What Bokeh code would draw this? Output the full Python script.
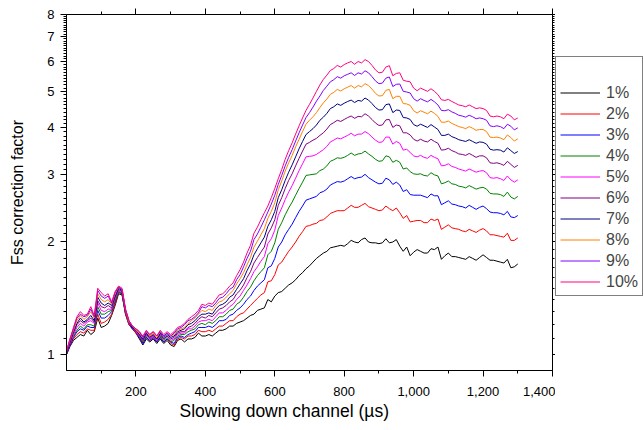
from bokeh.plotting import figure
from bokeh.layouts import row
from bokeh.models import (Range1d, FixedTicker, NumeralTickFormatter, LinearAxis,
                          LogAxis, Legend, LegendItem, Title)
from bokeh.embed import file_html
from bokeh.resources import INLINE

# slowing-down channel (µs), one point every 10 µs
x_us = list(range(0, 1301, 10))

labels = ["1%", "2%", "3%", "4%", "5%", "6%", "7%", "8%", "9%", "10%"]
colors = ["#000000", "#FF0000", "#0000FF", "#008000", "#FF00FF",
          "#800080", "#000080", "#FF8000", "#8000FF", "#FF0080"]

s1 = [1.00,1.05,1.09,1.11,1.13,1.12,1.16,1.13,1.15,1.25,
      1.18,1.19,1.21,1.27,1.35,1.45,1.44,1.28,1.20,1.17,
      1.14,1.10,1.06,1.10,1.08,1.10,1.07,1.10,1.07,1.09,
      1.06,1.05,1.09,1.10,1.08,1.10,1.10,1.11,1.14,1.12,
      1.12,1.13,1.12,1.14,1.16,1.16,1.17,1.19,1.19,1.21,
      1.22,1.23,1.25,1.27,1.28,1.31,1.32,1.33,1.40,1.38,
      1.43,1.46,1.47,1.50,1.53,1.55,1.58,1.62,1.65,1.69,
      1.72,1.76,1.80,1.83,1.86,1.88,1.92,1.93,1.94,1.95,
      1.94,1.97,2.01,1.99,1.98,2.02,2.04,1.99,1.98,1.98,
      1.97,1.98,2.03,1.98,1.99,2.02,1.94,1.88,1.93,1.83,
      1.87,1.90,1.88,1.86,1.86,1.91,1.90,1.93,1.79,1.83,
      1.86,1.82,1.82,1.81,1.80,1.79,1.82,1.80,1.78,1.81,
      1.84,1.81,1.78,1.78,1.77,1.76,1.75,1.79,1.70,1.71,
      1.74]

s2 = [1.00,1.06,1.10,1.13,1.15,1.14,1.17,1.16,1.16,1.28,
      1.21,1.22,1.24,1.28,1.36,1.46,1.45,1.28,1.20,1.17,
      1.14,1.11,1.07,1.11,1.09,1.11,1.08,1.11,1.08,1.10,
      1.07,1.06,1.10,1.11,1.10,1.12,1.12,1.13,1.16,1.15,
      1.15,1.16,1.15,1.17,1.19,1.19,1.21,1.23,1.23,1.26,
      1.28,1.29,1.32,1.35,1.38,1.41,1.44,1.46,1.56,1.57,
      1.63,1.73,1.76,1.82,1.88,1.93,1.99,2.06,2.12,2.19,
      2.20,2.22,2.23,2.27,2.28,2.32,2.37,2.39,2.41,2.41,
      2.41,2.45,2.49,2.46,2.46,2.49,2.52,2.47,2.45,2.43,
      2.41,2.42,2.48,2.44,2.41,2.45,2.38,2.30,2.34,2.25,
      2.26,2.27,2.27,2.24,2.24,2.29,2.27,2.29,2.15,2.18,
      2.21,2.17,2.16,2.15,2.13,2.12,2.15,2.13,2.11,2.14,
      2.16,2.13,2.08,2.08,2.07,2.06,2.05,2.10,2.01,2.01,
      2.04]

s3 = [1.00,1.06,1.11,1.15,1.17,1.16,1.19,1.18,1.18,1.31,
      1.25,1.25,1.27,1.30,1.38,1.47,1.45,1.29,1.21,1.17,
      1.15,1.11,1.07,1.11,1.09,1.11,1.08,1.11,1.08,1.10,
      1.08,1.07,1.11,1.12,1.11,1.13,1.14,1.15,1.18,1.18,
      1.18,1.19,1.18,1.20,1.23,1.23,1.24,1.27,1.28,1.31,
      1.33,1.36,1.40,1.43,1.48,1.52,1.55,1.58,1.70,1.72,
      1.80,1.93,1.99,2.08,2.15,2.22,2.31,2.40,2.48,2.57,
      2.59,2.61,2.63,2.69,2.71,2.75,2.82,2.85,2.88,2.87,
      2.89,2.93,2.97,2.93,2.95,2.96,3.01,2.95,2.91,2.87,
      2.84,2.85,2.94,2.91,2.83,2.87,2.82,2.71,2.74,2.66,
      2.65,2.65,2.65,2.63,2.61,2.67,2.64,2.64,2.50,2.53,
      2.56,2.51,2.50,2.48,2.47,2.45,2.49,2.46,2.43,2.46,
      2.48,2.44,2.39,2.38,2.38,2.37,2.35,2.40,2.32,2.31,
      2.34]

s4 = [1.01,1.07,1.12,1.16,1.19,1.17,1.20,1.20,1.19,1.34,
      1.28,1.28,1.30,1.31,1.39,1.47,1.46,1.29,1.21,1.18,
      1.15,1.12,1.08,1.12,1.10,1.12,1.09,1.12,1.09,1.11,
      1.08,1.09,1.12,1.13,1.13,1.15,1.16,1.17,1.20,1.21,
      1.20,1.22,1.21,1.23,1.26,1.26,1.28,1.31,1.32,1.36,
      1.38,1.42,1.47,1.51,1.57,1.62,1.66,1.70,1.84,1.88,
      1.98,2.15,2.24,2.35,2.45,2.54,2.65,2.76,2.87,2.99,
      3.00,3.01,3.02,3.08,3.11,3.17,3.26,3.29,3.33,3.32,
      3.34,3.38,3.43,3.38,3.41,3.42,3.47,3.41,3.36,3.30,
      3.26,3.27,3.37,3.35,3.24,3.28,3.24,3.11,3.13,3.06,
      3.02,3.01,3.02,2.99,2.98,3.04,3.00,2.98,2.84,2.86,
      2.89,2.84,2.83,2.80,2.79,2.77,2.81,2.78,2.75,2.77,
      2.78,2.75,2.68,2.67,2.67,2.66,2.63,2.70,2.62,2.59,
      2.63]

s5 = [1.01,1.07,1.13,1.18,1.21,1.19,1.22,1.23,1.21,1.37,
      1.31,1.30,1.32,1.32,1.41,1.48,1.47,1.30,1.21,1.18,
      1.15,1.12,1.09,1.13,1.10,1.12,1.09,1.13,1.10,1.12,
      1.09,1.10,1.13,1.14,1.14,1.17,1.17,1.19,1.22,1.23,
      1.23,1.24,1.23,1.26,1.29,1.29,1.31,1.34,1.36,1.40,
      1.43,1.48,1.53,1.59,1.66,1.71,1.77,1.82,1.97,2.03,
      2.14,2.34,2.45,2.58,2.70,2.81,2.94,3.08,3.21,3.35,
      3.36,3.37,3.40,3.45,3.50,3.57,3.67,3.71,3.76,3.74,
      3.78,3.82,3.87,3.81,3.85,3.85,3.91,3.86,3.78,3.71,
      3.66,3.67,3.78,3.78,3.62,3.68,3.64,3.49,3.51,3.44,
      3.37,3.35,3.38,3.34,3.32,3.38,3.34,3.31,3.17,3.18,
      3.21,3.16,3.14,3.11,3.09,3.07,3.11,3.08,3.05,3.07,
      3.08,3.04,2.95,2.94,2.95,2.93,2.90,2.98,2.91,2.87,
      2.91]

s6 = [1.01,1.08,1.14,1.20,1.23,1.21,1.23,1.25,1.22,1.39,
      1.34,1.33,1.35,1.33,1.42,1.49,1.47,1.30,1.22,1.18,
      1.16,1.13,1.09,1.13,1.11,1.13,1.10,1.13,1.10,1.12,
      1.10,1.11,1.14,1.15,1.15,1.18,1.19,1.21,1.24,1.26,
      1.25,1.27,1.26,1.29,1.32,1.33,1.35,1.38,1.40,1.45,
      1.48,1.53,1.60,1.66,1.75,1.81,1.87,1.93,2.09,2.17,
      2.28,2.49,2.61,2.76,2.90,3.02,3.17,3.32,3.47,3.62,
      3.66,3.71,3.75,3.82,3.88,3.97,4.08,4.13,4.19,4.16,
      4.21,4.26,4.30,4.24,4.29,4.28,4.36,4.30,4.21,4.12,
      4.06,4.07,4.20,4.21,4.01,4.07,4.05,3.88,3.88,3.83,
      3.73,3.69,3.73,3.69,3.67,3.73,3.68,3.64,3.49,3.50,
      3.53,3.48,3.45,3.41,3.40,3.38,3.42,3.38,3.34,3.37,
      3.37,3.33,3.23,3.22,3.23,3.21,3.18,3.26,3.20,3.14,
      3.18]

s7 = [1.01,1.08,1.15,1.21,1.25,1.22,1.24,1.27,1.23,1.42,
      1.37,1.35,1.37,1.35,1.43,1.50,1.48,1.31,1.22,1.18,
      1.16,1.13,1.10,1.14,1.11,1.13,1.10,1.14,1.11,1.13,
      1.11,1.12,1.15,1.16,1.17,1.20,1.21,1.23,1.26,1.28,
      1.28,1.29,1.28,1.32,1.35,1.36,1.38,1.42,1.44,1.49,
      1.54,1.59,1.67,1.74,1.84,1.91,1.98,2.05,2.19,2.28,
      2.40,2.61,2.74,2.90,3.05,3.19,3.35,3.52,3.68,3.84,
      3.91,3.98,4.07,4.19,4.27,4.37,4.50,4.55,4.63,4.59,
      4.65,4.70,4.74,4.67,4.73,4.71,4.80,4.74,4.64,4.53,
      4.46,4.47,4.61,4.63,4.39,4.46,4.45,4.26,4.25,4.21,
      4.08,4.04,4.09,4.05,4.01,4.08,4.02,3.96,3.82,3.82,
      3.85,3.79,3.76,3.72,3.70,3.68,3.72,3.68,3.64,3.67,
      3.66,3.62,3.51,3.49,3.50,3.49,3.45,3.54,3.48,3.42,
      3.46]

s8 = [1.02,1.09,1.16,1.23,1.27,1.24,1.26,1.30,1.25,1.45,
      1.40,1.38,1.40,1.36,1.45,1.51,1.49,1.31,1.22,1.19,
      1.16,1.14,1.11,1.15,1.12,1.14,1.11,1.15,1.12,1.14,
      1.12,1.13,1.16,1.17,1.18,1.21,1.23,1.25,1.28,1.31,
      1.30,1.32,1.31,1.35,1.38,1.39,1.42,1.45,1.48,1.54,
      1.59,1.65,1.73,1.81,1.93,2.00,2.08,2.16,2.30,2.40,
      2.53,2.74,2.89,3.07,3.23,3.38,3.56,3.73,3.91,4.09,
      4.19,4.28,4.39,4.53,4.66,4.77,4.91,4.97,5.06,5.01,
      5.08,5.13,5.18,5.10,5.18,5.14,5.24,5.18,5.07,4.94,
      4.86,4.87,5.03,5.06,4.78,4.85,4.85,4.64,4.63,4.59,
      4.44,4.38,4.44,4.40,4.36,4.43,4.37,4.29,4.14,4.14,
      4.17,4.11,4.07,4.03,4.01,3.98,4.03,3.99,3.94,3.96,
      3.96,3.91,3.78,3.77,3.78,3.76,3.72,3.83,3.77,3.69,
      3.74]

s9 = [1.02,1.10,1.17,1.25,1.28,1.26,1.27,1.32,1.26,1.48,
      1.43,1.41,1.43,1.37,1.46,1.51,1.49,1.32,1.23,1.19,
      1.17,1.15,1.11,1.15,1.13,1.15,1.12,1.15,1.12,1.14,
      1.12,1.14,1.17,1.18,1.20,1.23,1.24,1.26,1.29,1.34,
      1.33,1.35,1.34,1.37,1.41,1.42,1.45,1.49,1.51,1.58,
      1.63,1.71,1.80,1.88,2.02,2.09,2.18,2.28,2.39,2.51,
      2.65,2.83,2.99,3.17,3.34,3.50,3.69,3.88,4.07,4.26,
      4.39,4.54,4.71,4.86,5.03,5.16,5.30,5.37,5.47,5.42,
      5.50,5.55,5.60,5.51,5.60,5.56,5.67,5.60,5.47,5.33,
      5.24,5.26,5.42,5.46,5.15,5.22,5.23,5.00,4.98,4.95,
      4.78,4.71,4.78,4.73,4.69,4.76,4.69,4.60,4.45,4.44,
      4.47,4.41,4.37,4.32,4.30,4.27,4.32,4.28,4.23,4.25,
      4.23,4.19,4.05,4.03,4.05,4.03,3.98,4.09,4.04,3.95,
      4.00]

s10 = [1.02,1.10,1.18,1.26,1.30,1.27,1.28,1.34,1.27,1.50,
       1.46,1.43,1.45,1.38,1.47,1.52,1.50,1.32,1.23,1.19,
       1.17,1.15,1.12,1.16,1.13,1.15,1.12,1.16,1.13,1.15,
       1.13,1.15,1.18,1.19,1.21,1.24,1.26,1.28,1.31,1.36,
       1.35,1.37,1.36,1.40,1.44,1.45,1.48,1.52,1.55,1.62,
       1.68,1.76,1.86,1.95,2.10,2.18,2.28,2.38,2.48,2.61,
       2.76,2.93,3.10,3.30,3.48,3.65,3.85,4.05,4.25,4.45,
       4.62,4.80,5.00,5.20,5.38,5.52,5.68,5.75,5.86,5.80,
       5.89,5.95,6.00,5.90,6.00,5.95,6.07,6.00,5.86,5.70,
       5.60,5.62,5.80,5.85,5.50,5.58,5.60,5.35,5.32,5.30,
       5.10,5.02,5.10,5.05,5.00,5.08,5.00,4.90,4.75,4.73,
       4.76,4.70,4.65,4.60,4.58,4.55,4.60,4.55,4.50,4.52,
       4.50,4.45,4.30,4.28,4.30,4.28,4.23,4.35,4.30,4.20,
       4.25]

series = [s1, s2, s3, s4, s5, s6, s7, s8, s9, s10]

x_major = [200, 400, 600, 800, 1000, 1200, 1400]
x_minor = [100, 300, 500, 700, 900, 1100, 1300]
y_major = [1, 2, 3, 4, 5, 6, 7, 8]
y_minor = [round(1 + 0.1 * i, 1) for i in range(1, 70) if i % 10]

FONT = "Liberation Sans"
H = 430

p = figure(width=555, height=H, x_range=Range1d(0, 1400), y_range=Range1d(0.907, 8),
           y_axis_type="log", output_backend="svg", toolbar_location=None,
           min_border_left=66, min_border_right=3, min_border_top=14, min_border_bottom=60)
p.xgrid.visible = False
p.ygrid.visible = False
p.outline_line_color = "black"
p.outline_line_width = 1
p.background_fill_color = "white"
p.border_fill_color = "white"

for col, ys in zip(colors, series):
    p.line(x_us, ys, line_color=col, line_width=1)

# bottom axis
xa = p.xaxis[0]
xa.ticker = FixedTicker(ticks=x_major, minor_ticks=x_minor)
xa.formatter = NumeralTickFormatter(format="0,0")
xa.major_tick_in = 0
xa.major_tick_out = 6
xa.minor_tick_in = 0
xa.minor_tick_out = 3
xa.major_label_standoff = 10
xa.major_label_text_font = FONT
xa.major_label_text_font_size = "13px"
xa.major_label_text_color = "black"
xa.axis_line_color = "black"

# left axis
ya = p.yaxis[0]
ya.ticker = FixedTicker(ticks=y_major, minor_ticks=y_minor)
ya.formatter = NumeralTickFormatter(format="0")
ya.major_tick_in = 0
ya.major_tick_out = 6
ya.minor_tick_in = 0
ya.minor_tick_out = 3
ya.major_label_standoff = 6
ya.major_label_text_font = FONT
ya.major_label_text_font_size = "13px"
ya.major_label_text_color = "black"
ya.axis_label = "Fss correction factor"
ya.axis_label_text_font = FONT
ya.axis_label_text_font_size = "16px"
ya.axis_label_text_font_style = "normal"
ya.axis_label_text_color = "black"
ya.axis_label_standoff = 18

# mirrored top axis (ticks only)
top = LinearAxis(ticker=FixedTicker(ticks=x_major, minor_ticks=x_minor),
                 major_label_overrides={v: "" for v in x_major}, major_label_standoff=0,
                 major_label_text_font_size="1px",
                 major_tick_in=0, major_tick_out=6, minor_tick_in=0, minor_tick_out=3)
p.add_layout(top, "above")

# mirrored right axis (ticks only)
right = LogAxis(ticker=FixedTicker(ticks=y_major, minor_ticks=y_minor),
                major_label_overrides={v: "" for v in y_major}, major_label_standoff=0,
                major_label_text_font_size="1px",
                major_tick_in=0, major_tick_out=3, minor_tick_in=0, minor_tick_out=2)
p.add_layout(right, "right")

xlabel = Title(text="Slowing down channel (µs)", align="left", offset=113,
               text_font=FONT, text_font_size="17.5px", text_font_style="normal",
               text_color="black", standoff=0)
p.add_layout(xlabel, "below")

# legend panel to the right of the plot (its frame aligns with the plot's frame)
lf = figure(width=88, height=H, x_range=Range1d(0, 1), y_range=Range1d(0, 1),
            output_backend="svg", toolbar_location=None,
            min_border_left=0, min_border_right=0, min_border_top=14, min_border_bottom=60)
lf.axis.visible = False
lf.xgrid.visible = False
lf.ygrid.visible = False
lf.outline_line_color = None
lf.background_fill_color = "white"
lf.border_fill_color = "white"

items = []
for lab, col in zip(labels, colors):
    # legend-only renderers: their two points lie outside this panel's view
    r = lf.line(x=[5, 6], y=[5, 6], line_color=col, line_width=1)
    items.append(LegendItem(label=lab, renderers=[r]))

legend = Legend(items=items, location=(0, 74), border_line_color="black", border_line_width=1,
                padding=4, spacing=2, label_height=19, glyph_height=19, glyph_width=40,
                label_standoff=6, label_text_font=FONT, label_text_font_size="16px",
                title=" ", title_text_font_size="16px", title_standoff=4, margin=0,
                background_fill_color="white", background_fill_alpha=1.0)
lf.add_layout(legend, "center")

layout = row(p, lf)
open("out.html", "w").write(file_html(layout, INLINE))
